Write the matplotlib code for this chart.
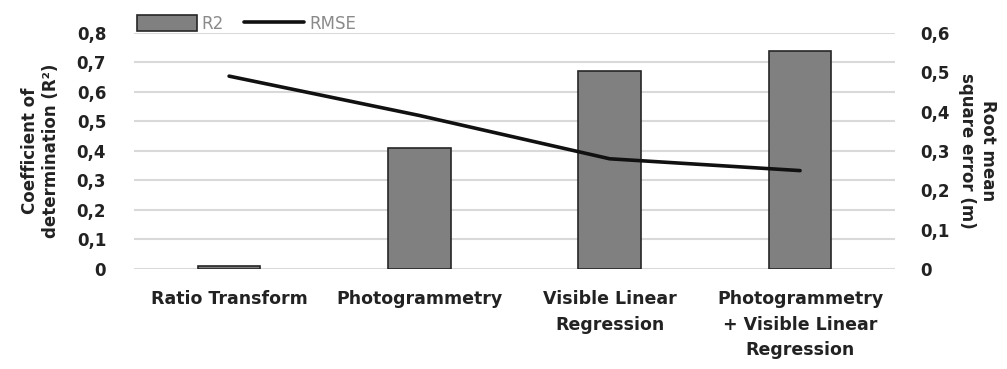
import numpy as np
import matplotlib.pyplot as plt
from matplotlib.ticker import FuncFormatter, MultipleLocator

# data
methods = ["Ratio Transform", "Photogrammetry", "Visible Linear\nRegression",
           "Photogrammetry\n+ Visible Linear\nRegression"]
r2 = [0.01, 0.41, 0.67, 0.74]
rmse = [0.49, 0.39, 0.28, 0.25]

plt.rcParams['font.family'] = ['DejaVu Sans']

fig = plt.figure(figsize=(10.07, 3.69), dpi=100)
ax = fig.add_axes([0.133, 0.271, 0.756, 0.64])
ax2 = ax.twinx()

x = np.arange(len(methods))
ax.bar(x, r2, width=0.33, color="#808080", edgecolor="#262626", linewidth=1.2,
       label="R2", zorder=3)
ax2.plot(x, rmse, color="#111111", linewidth=2.6, label="RMSE",
         solid_capstyle="round", zorder=4)

ax.set_xlim(-0.5, len(methods) - 0.5)
ax.set_ylim(0, 0.8)
ax2.set_ylim(0, 0.6)
ax.yaxis.set_major_locator(MultipleLocator(0.1))
ax2.yaxis.set_major_locator(MultipleLocator(0.1))

comma = FuncFormatter(lambda v, p: "0" if abs(v) < 1e-9 else f"{v:.1f}".replace(".", ","))
ax.yaxis.set_major_formatter(comma)
ax2.yaxis.set_major_formatter(comma)

ax.grid(axis="y", color="#d9d9d9", linewidth=1.5, zorder=0)
ax.set_axisbelow(True)
for a in (ax, ax2):
    for s in a.spines.values():
        s.set_visible(False)
    a.tick_params(length=0, labelsize=12, colors="#222222")
    for t in a.get_yticklabels():
        t.set_fontweight("bold")

ax.set_xticks(x)
ax.set_xticklabels(methods, fontweight="bold", fontsize=12.5, linespacing=1.55)
ax.tick_params(axis="x", pad=15)
ax.tick_params(axis="y", pad=20)
ax2.tick_params(axis="y", pad=18)

ax.set_ylabel("Coefficient of\ndetermination (R²)", fontweight="bold", fontsize=12,
              labelpad=12, color="#222222")
ax2.set_ylabel("Root mean\nsquare error (m)", fontweight="bold", fontsize=12,
               rotation=270, labelpad=34, color="#222222")

h1, l1 = ax.get_legend_handles_labels()
h2, l2 = ax2.get_legend_handles_labels()
leg = fig.legend(h1 + h2, l1 + l2, loc="upper left", bbox_to_anchor=(0.121, 1.0),
                 ncol=2, frameon=False, fontsize=12, handlelength=3.6,
                 handleheight=1.1, handletextpad=0.3, columnspacing=1.2,
                 labelcolor="#8a8a8a")

fig.savefig("out.png", dpi=100)
